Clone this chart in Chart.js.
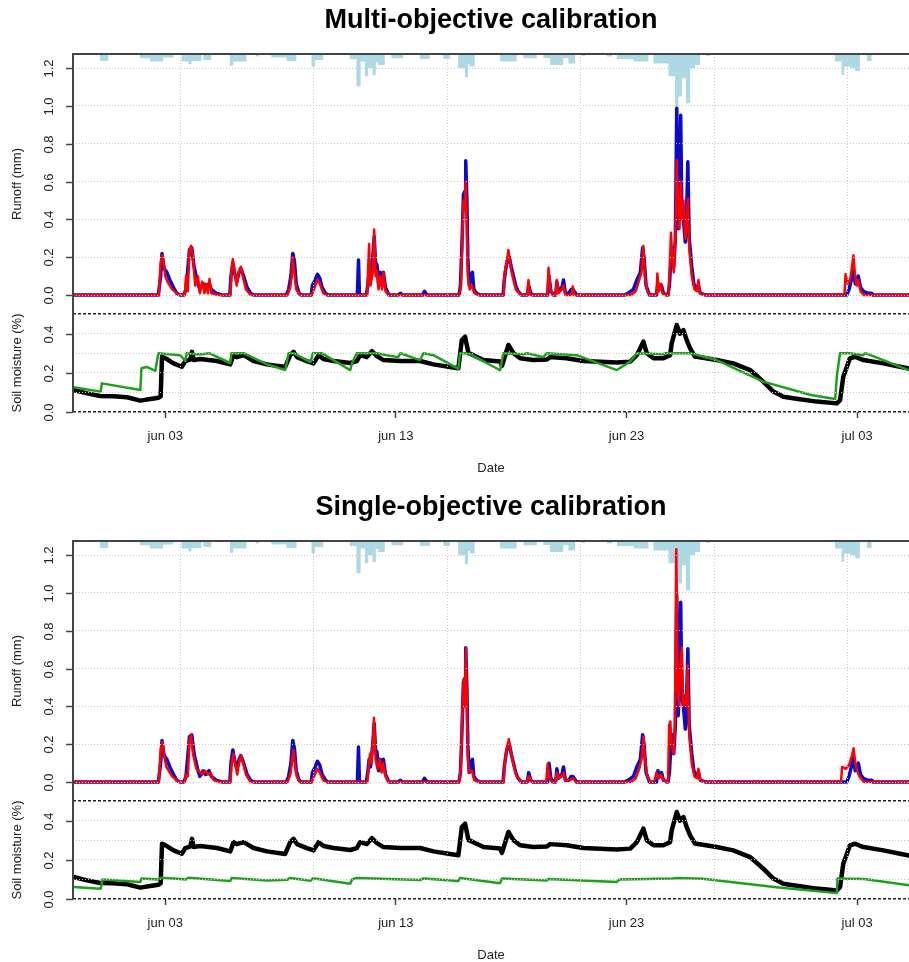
<!DOCTYPE html>
<html>
<head>
<meta charset="utf-8">
<title>Kalibrasi</title>
<script src="https://cdn.jsdelivr.net/npm/chart.js@4.4.0/dist/chart.umd.min.js"></script>
<style>
    html, body { margin: 0; padding: 0; background: #fff; overflow: hidden; }
    canvas { display: block; }
</style>
</head>
<body>
<canvas id="chartMulti" width="909" height="487"></canvas>
<canvas id="chartSingle" width="909" height="487"></canvas>
<script>
// Sumbu x dalam hari sejak 1 Juni (jun 03 = 3, jul 03 = 33)
const xMin = -1;
const xMax = 35.25;
const xTickDays = [3, 13, 23, 33];
const xTickLabels = ['jun 03', 'jun 13', 'jun 23', 'jul 03'];
// Garis grid vertikal (tiap 500000 detik)
const gridDays = [3.652, 9.439, 15.226, 21.013, 26.8, 32.587];

const runoffTicks = [0, 0.2, 0.4, 0.6, 0.8, 1.0, 1.2];
const soilTicks = [0, 0.1, 0.2, 0.3, 0.4, 0.5];
const soilLabelTicks = [0, 0.2, 0.4];

// Curah hujan [hari, mm], nilai berlaku sampai titik berikutnya
const precip = [
    [-1, 0], [0.17, 0.7], [0.53, 0],
    [1.9, 0.43], [2.34, 0.76], [2.91, 0.36], [3.35, 0],
    [3.71, 0.76], [4.0, 1.03], [4.14, 0.7], [4.57, 0], [4.65, 0.6], [5.0, 0],
    [5.8, 1.17], [5.95, 0.76], [6.52, 0],
    [6.93, 0.26], [7.07, 0],
    [7.6, 0.36], [8.26, 0.7], [8.69, 0],
    [9.34, 1.26], [9.49, 0.6], [9.85, 0],
    [11.0, 0.53], [11.22, 0.5], [11.29, 3.23], [11.47, 0.76], [11.66, 2.23], [11.8, 1.4], [11.99, 2.1], [12.13, 0.8], [12.23, 1.1], [12.52, 0],
    [12.81, 0.43], [13.32, 0],
    [14.04, 0.5], [14.47, 0],
    [15.05, 0.5], [15.34, 0],
    [15.7, 1.4], [15.99, 2.33], [16.13, 1.0], [16.2, 1.26], [16.42, 0],
    [17.52, 0.76], [18.24, 0],
    [18.53, 0.43], [19.11, 0],
    [19.4, 0.4], [19.69, 1.1], [20.26, 0.4], [20.48, 0.96], [20.77, 0],
    [21.07, 0.2], [21.2, 0],
    [22.15, 0.26], [22.36, 0],
    [22.58, 0.5], [23.3, 0.76], [23.95, 0],
    [24.17, 0.96], [24.82, 2.23], [25.1, 5.26], [25.25, 4.26], [25.4, 2.43], [25.58, 4.93], [25.76, 1.4], [25.97, 1.1], [26.19, 0],
    [26.45, 0.2], [26.6, 0],
    [32.04, 0.76], [32.33, 2.1], [32.43, 1.26], [32.7, 1.4], [32.91, 1.73], [33.12, 0],
    [33.42, 0.7], [33.63, 0],
    [35.25, 0]
];

// Runoff observasi (mm)
const runoffObs = [
    [-1, 0], [2.7, 0], [2.8, 0.1], [2.86, 0.22], [2.95, 0.14], [3.07, 0.12], [3.2, 0.08], [3.36, 0.04], [3.5, 0.01], [3.65, 0],
    [3.8, 0], [3.9, 0.03], [4.05, 0.24], [4.15, 0.25], [4.25, 0.15], [4.4, 0.07], [4.5, 0.03], [4.65, 0.06], [4.75, 0.04], [4.9, 0.06], [5.0, 0.03], [5.2, 0.01], [5.5, 0],
    [5.8, 0], [5.85, 0.1], [5.93, 0.17], [6.0, 0.12], [6.1, 0.07], [6.2, 0.12], [6.28, 0.14], [6.4, 0.1], [6.55, 0.04], [6.7, 0.01], [6.85, 0],
    [8.25, 0], [8.35, 0.03], [8.45, 0.1], [8.53, 0.22], [8.6, 0.18], [8.68, 0.06], [8.8, 0.01], [8.9, 0],
    [9.33, 0], [9.38, 0.05], [9.5, 0.08], [9.6, 0.11], [9.7, 0.09], [9.8, 0.04], [9.95, 0.01], [10.05, 0],
    [11.33, 0], [11.38, 0.185], [11.42, 0],
    [11.72, 0], [11.78, 0.05], [11.84, 0.12], [11.9, 0.08], [12.0, 0.2], [12.06, 0.31], [12.12, 0.17], [12.18, 0.16], [12.25, 0.06], [12.32, 0.12], [12.4, 0.1], [12.46, 0.12], [12.55, 0.04], [12.7, 0],
    [13.1, 0], [13.19, 0.01], [13.3, 0],
    [14.15, 0], [14.24, 0.02], [14.35, 0],
    [15.74, 0], [15.8, 0.05], [15.86, 0.25], [15.93, 0.53], [16.0, 0.55], [16.03, 0.71], [16.08, 0.5], [16.12, 0.2], [16.18, 0.05], [16.25, 0.1], [16.32, 0.12], [16.38, 0.03], [16.5, 0.01], [16.65, 0],
    [17.65, 0], [17.7, 0.08], [17.78, 0.15], [17.85, 0.19], [17.92, 0.2], [18.0, 0.15], [18.1, 0.1], [18.2, 0.05], [18.3, 0.02], [18.45, 0],
    [18.7, 0], [18.76, 0.05], [18.85, 0.01], [18.95, 0],
    [19.58, 0], [19.64, 0.1], [19.72, 0.02], [19.85, 0],
    [19.93, 0], [19.98, 0.07], [20.05, 0.02], [20.2, 0.04], [20.27, 0.08], [20.35, 0.01], [20.5, 0.01], [20.6, 0.03], [20.68, 0.03], [20.84, 0],
    [22.9, 0], [23.08, 0.01], [23.3, 0.03], [23.45, 0.08], [23.6, 0.12], [23.7, 0.25], [23.76, 0.2], [23.85, 0.05], [24.0, 0],
    [24.3, 0], [24.36, 0.06], [24.45, 0.03], [24.52, 0.05], [24.6, 0.01], [24.75, 0],
    [24.8, 0], [24.86, 0.05], [24.93, 0.2], [24.98, 0.25], [25.05, 0.15], [25.12, 0.3], [25.18, 0.987], [25.24, 0.35], [25.3, 0.5], [25.35, 0.95], [25.4, 0.45], [25.47, 0.4], [25.55, 0.28], [25.6, 0.4], [25.66, 0.705], [25.72, 0.3], [25.83, 0.15], [25.92, 0.06], [26.0, 0.04], [26.12, 0.05], [26.2, 0.01], [26.45, 0],
    [32.55, 0], [32.65, 0.03], [32.75, 0.08], [32.84, 0.13], [32.92, 0.06], [33.05, 0.1], [33.15, 0.04], [33.27, 0.02], [33.45, 0.01], [33.63, 0.01], [33.7, 0],
    [35.25, 0]
];

// Runoff simulasi, kalibrasi multi-objektif
const runoffSimMulti = [
    [-1, 0], [2.72, 0], [2.8, 0.17], [2.88, 0.21], [2.95, 0.15], [3.0, 0.1], [3.1, 0.07], [3.3, 0.03], [3.6, 0],
    [3.85, 0], [3.9, 0.1], [3.98, 0.02], [4.05, 0.24], [4.12, 0.26], [4.2, 0.2], [4.3, 0.05], [4.42, 0.1], [4.5, 0.01], [4.6, 0.07], [4.7, 0.01], [4.75, 0.06], [4.85, 0.01], [4.92, 0.085], [5.0, 0.01], [5.3, 0],
    [5.82, 0], [5.87, 0.12], [5.93, 0.19], [6.0, 0.13], [6.1, 0.05], [6.2, 0.13], [6.28, 0.15], [6.38, 0.09], [6.5, 0.03], [6.7, 0],
    [8.3, 0], [8.42, 0.04], [8.48, 0.1], [8.53, 0.2], [8.6, 0.12], [8.68, 0.03], [8.85, 0],
    [9.35, 0], [9.45, 0.03], [9.6, 0.08], [9.7, 0.06], [9.85, 0.01], [10.0, 0],
    [11.76, 0], [11.8, 0.15], [11.84, 0.27], [11.9, 0.05], [12.0, 0.12], [12.06, 0.347], [12.12, 0.1], [12.18, 0.13], [12.25, 0.03], [12.32, 0.1], [12.4, 0.03], [12.46, 0.12], [12.55, 0.02], [12.68, 0],
    [15.76, 0], [15.82, 0.05], [15.88, 0.3], [15.93, 0.5], [15.98, 0.45], [16.03, 0.6], [16.08, 0.35], [16.12, 0.1], [16.2, 0.03], [16.3, 0.05], [16.4, 0.01], [16.6, 0],
    [17.67, 0], [17.72, 0.12], [17.8, 0.17], [17.88, 0.238], [17.95, 0.17], [18.02, 0.12], [18.1, 0.08], [18.2, 0.03], [18.35, 0.01], [18.45, 0],
    [18.7, 0], [18.75, 0.079], [18.82, 0],
    [19.57, 0], [19.62, 0.144], [19.7, 0.03], [19.8, 0],
    [19.93, 0], [19.98, 0.08], [20.05, 0.01], [20.2, 0.03], [20.27, 0.05], [20.35, 0], [20.62, 0], [20.67, 0.045], [20.74, 0],
    [23.2, 0], [23.4, 0.02], [23.55, 0.08], [23.65, 0.12], [23.73, 0.26], [23.8, 0.1], [23.9, 0.02], [24.05, 0],
    [24.3, 0], [24.34, 0.114], [24.4, 0.02], [24.5, 0.06], [24.56, 0.01], [24.7, 0],
    [24.82, 0], [24.88, 0.15], [24.93, 0.33], [24.98, 0.2], [25.05, 0.12], [25.12, 0.3], [25.18, 0.713], [25.24, 0.45], [25.3, 0.35], [25.35, 0.6], [25.42, 0.4], [25.47, 0.5], [25.55, 0.3], [25.6, 0.35], [25.66, 0.51], [25.72, 0.25], [25.83, 0.1], [25.95, 0.03], [26.05, 0.02], [26.12, 0.08], [26.18, 0.01], [26.4, 0],
    [32.45, 0], [32.5, 0.11], [32.6, 0.06], [32.7, 0.08], [32.78, 0.15], [32.84, 0.21], [32.9, 0.12], [32.98, 0.05], [33.05, 0.08], [33.15, 0.02], [33.3, 0],
    [35.25, 0]
];

// Runoff simulasi, kalibrasi single-objektif
const runoffSimSingle = [
    [-1, 0], [2.72, 0], [2.8, 0.17], [2.88, 0.21], [2.95, 0.14], [3.05, 0.08], [3.3, 0.03], [3.6, 0],
    [3.85, 0], [3.9, 0.04], [3.98, 0.03], [4.05, 0.22], [4.12, 0.25], [4.2, 0.15], [4.35, 0.07], [4.45, 0.06], [4.6, 0.04], [4.72, 0.06], [4.85, 0.04], [4.95, 0.05], [5.1, 0.01], [5.35, 0],
    [5.82, 0], [5.88, 0.1], [5.96, 0.15], [6.03, 0.1], [6.12, 0.04], [6.2, 0.1], [6.28, 0.14], [6.38, 0.1], [6.5, 0.04], [6.7, 0],
    [8.3, 0], [8.42, 0.04], [8.48, 0.09], [8.55, 0.17], [8.62, 0.1], [8.7, 0.03], [8.85, 0],
    [9.35, 0], [9.45, 0.03], [9.6, 0.07], [9.7, 0.05], [9.85, 0.01], [10.0, 0],
    [11.76, 0], [11.82, 0.08], [11.88, 0.15], [11.94, 0.1], [12.0, 0.2], [12.05, 0.34], [12.12, 0.12], [12.2, 0.07], [12.3, 0.12], [12.38, 0.05], [12.45, 0.1], [12.55, 0.03], [12.68, 0],
    [15.76, 0], [15.82, 0.1], [15.88, 0.35], [15.93, 0.54], [15.98, 0.4], [16.04, 0.707], [16.08, 0.4], [16.12, 0.12], [16.2, 0.05], [16.3, 0.06], [16.4, 0.01], [16.6, 0],
    [17.67, 0], [17.72, 0.1], [17.8, 0.17], [17.9, 0.227], [17.97, 0.17], [18.05, 0.12], [18.15, 0.07], [18.25, 0.03], [18.45, 0],
    [18.7, 0], [18.75, 0.03], [18.82, 0.02], [18.9, 0],
    [19.52, 0], [19.58, 0.095], [19.66, 0.03], [19.75, 0],
    [19.92, 0], [19.98, 0.05], [20.06, 0.02], [20.2, 0.03], [20.27, 0.05], [20.35, 0.01], [20.55, 0.01], [20.7, 0.02], [20.8, 0],
    [23.2, 0], [23.4, 0.02], [23.55, 0.07], [23.65, 0.12], [23.74, 0.24], [23.8, 0.12], [23.9, 0.03], [24.05, 0],
    [24.2, 0], [24.3, 0.05], [24.4, 0.02], [24.5, 0.04], [24.6, 0.01], [24.75, 0],
    [24.8, 0], [24.85, 0.3], [24.9, 0.32], [24.95, 0.2], [25.05, 0.15], [25.1, 0.3], [25.16, 1.23], [25.22, 0.5], [25.28, 0.4], [25.34, 0.62], [25.4, 0.71], [25.46, 0.4], [25.53, 0.46], [25.6, 0.4], [25.65, 0.62], [25.72, 0.25], [25.83, 0.1], [25.95, 0.03], [26.05, 0.02], [26.12, 0.07], [26.2, 0.01], [26.4, 0],
    [32.3, 0], [32.35, 0.08], [32.5, 0.07], [32.65, 0.09], [32.78, 0.14], [32.85, 0.178], [32.92, 0.1], [33.0, 0.06], [33.1, 0.03], [33.3, 0],
    [35.25, 0]
];

// Kelembaban tanah observasi
const soilObs = [
    [-0.97, 0.112], [-0.39, 0.095], [0.18, 0.082], [0.76, 0.08], [1.34, 0.075], [1.92, 0.058], [2.35, 0.066], [2.71, 0.073], [2.8, 0.08],
    [2.86, 0.282], [3.07, 0.27], [3.36, 0.248], [3.72, 0.231], [3.87, 0.26], [4.08, 0.267], [4.16, 0.307], [4.23, 0.265], [4.52, 0.27],
    [5.24, 0.26], [5.82, 0.243], [5.96, 0.29], [6.1, 0.28], [6.25, 0.285], [6.4, 0.29], [6.83, 0.26], [7.41, 0.243], [8.2, 0.23],
    [8.42, 0.29], [8.56, 0.307], [8.71, 0.28], [9.14, 0.26], [9.43, 0.248], [9.65, 0.29], [9.86, 0.27], [10.3, 0.26], [11.02, 0.25],
    [11.31, 0.26], [11.45, 0.29], [11.74, 0.28], [11.96, 0.31], [12.18, 0.285], [12.46, 0.265], [13.19, 0.26], [14.05, 0.26],
    [14.63, 0.243], [15.35, 0.23], [15.71, 0.223], [15.86, 0.367], [16.0, 0.384], [16.15, 0.3], [16.36, 0.29], [16.8, 0.265],
    [17.52, 0.258], [17.6, 0.235], [17.88, 0.342], [18.1, 0.3], [18.39, 0.274], [18.96, 0.265], [19.55, 0.268], [19.69, 0.28],
    [20.41, 0.274], [21.13, 0.26], [22.58, 0.252], [23.16, 0.257], [23.45, 0.29], [23.73, 0.359], [23.88, 0.3], [24.17, 0.274],
    [24.6, 0.274], [24.89, 0.29], [24.96, 0.35], [25.18, 0.444], [25.32, 0.4], [25.47, 0.418], [25.61, 0.367], [25.76, 0.325],
    [25.97, 0.283], [26.91, 0.265], [27.63, 0.248], [28.36, 0.214], [28.93, 0.155], [29.37, 0.104], [29.8, 0.078], [30.52, 0.065],
    [31.25, 0.053], [32.12, 0.044], [32.26, 0.06], [32.4, 0.18], [32.69, 0.274], [32.91, 0.282], [33.27, 0.265], [34.14, 0.248],
    [34.86, 0.231], [35.25, 0.222]
];

// Kelembaban tanah simulasi, multi-objektif
const soilSimMulti = [
    [-0.97, 0.126], [0.2, 0.104], [0.25, 0.146], [1.92, 0.112], [1.97, 0.223], [2.2, 0.23], [2.57, 0.21], [2.7, 0.3],
    [3.65, 0.29], [3.87, 0.26], [3.93, 0.3], [4.3, 0.295], [4.6, 0.295], [4.9, 0.3], [5.82, 0.25], [5.87, 0.3], [6.4, 0.3],
    [7.41, 0.243], [8.2, 0.214], [8.35, 0.3], [8.56, 0.3], [9.3, 0.255], [9.4, 0.3], [9.78, 0.3], [11.02, 0.214], [11.1, 0.25],
    [11.3, 0.3], [12.2, 0.3], [12.6, 0.29], [13.1, 0.28], [13.2, 0.3], [14.05, 0.265], [14.2, 0.3], [14.63, 0.29], [15.71, 0.22],
    [15.78, 0.3], [16.0, 0.3], [16.22, 0.295], [17.52, 0.213], [17.66, 0.3], [18.53, 0.295], [18.7, 0.3], [19.4, 0.28], [19.55, 0.3],
    [20.84, 0.29], [22.58, 0.214], [23.16, 0.257], [23.45, 0.3], [24.6, 0.295], [24.7, 0.3], [25.76, 0.3], [26.91, 0.265],
    [28.93, 0.155], [31.0, 0.087], [32.05, 0.066], [32.12, 0.18], [32.26, 0.3], [32.69, 0.3], [33.27, 0.29], [33.35, 0.3],
    [34.14, 0.265], [35.25, 0.213]
];

// Kelembaban tanah simulasi, single-objektif
const soilSimSingle = [
    [-0.97, 0.061], [0.2, 0.052], [0.28, 0.1], [1.92, 0.087], [1.97, 0.104], [2.71, 0.1], [2.8, 0.109], [3.65, 0.102], [3.9, 0.1],
    [4.0, 0.108], [5.82, 0.092], [5.88, 0.107], [7.41, 0.095], [8.3, 0.098], [8.4, 0.107], [9.3, 0.093], [9.4, 0.106], [11.02, 0.078],
    [11.1, 0.1], [11.3, 0.107], [14.05, 0.097], [14.2, 0.105], [15.71, 0.092], [15.78, 0.107], [17.52, 0.08], [17.6, 0.105],
    [19.55, 0.095], [19.6, 0.102], [22.58, 0.087], [22.7, 0.1], [25.0, 0.105], [25.2, 0.107], [26.3, 0.103], [29.5, 0.06],
    [32.12, 0.03], [32.15, 0.105], [33.3, 0.102], [35.25, 0.07]
];

Chart.defaults.font.family = "'Liberation Sans', Arial, sans-serif";
Chart.defaults.color = '#222';
Chart.defaults.elements.point.radius = 0;
Chart.defaults.elements.line.tension = 0;
Chart.defaults.elements.line.borderJoinStyle = 'round';
Chart.defaults.elements.line.borderCapStyle = 'round';

const gridGray = '#C8C8C8';
const axisColor = '#444';

// Fungsi untuk mengecek garis batas panel tanah (0 dan 0.5)
function isEdge(tick) {
    return !!tick && (tick.value === 0 || tick.value === 0.5);
}

// Plugin: garis tepi kiri/atas, tanda tick dan label sumbu y yang diputar
const axisLabelPlugin = {
    id: 'axisLabels',
    afterDraw(chart) {
        const ctx = chart.ctx;
        const area = chart.chartArea;
        ctx.save();
        ctx.strokeStyle = axisColor;
        ctx.lineWidth = 2;
        ctx.beginPath();
        ctx.moveTo(area.right, area.top);
        ctx.lineTo(area.left, area.top);
        ctx.lineTo(area.left, area.bottom);
        ctx.stroke();

        ctx.fillStyle = '#222';
        ctx.font = "13px 'Liberation Sans', Arial, sans-serif";
        ctx.textAlign = 'center';
        ctx.textBaseline = 'middle';
        ctx.lineWidth = 1.5;
        const drawLabels = (scale, values) => {
            values.forEach(v => {
                const y = Math.round(scale.getPixelForValue(v)) + 0.5;
                ctx.beginPath();
                ctx.moveTo(area.left - 7, y);
                ctx.lineTo(area.left, y);
                ctx.stroke();
                ctx.save();
                ctx.translate(area.left - 24, y);
                ctx.rotate(-Math.PI / 2);
                ctx.fillText(v.toFixed(1), 0, 0);
                ctx.restore();
            });
        };
        drawLabels(chart.scales.yR, runoffTicks);
        drawLabels(chart.scales.yS, soilLabelTicks);
        ctx.restore();
    }
};

// Fungsi untuk membuat satu panel kalibrasi
function buildChart(canvasId, title, runoffSim, soilSim) {
    const ctx = document.getElementById(canvasId).getContext('2d');
    return new Chart(ctx, {
        type: 'line',
        data: {
            datasets: [
                { label: 'Runoff sim', data: runoffSim, xAxisID: 'x', yAxisID: 'yR', borderColor: '#FF0000', borderWidth: 2.5 },
                { label: 'Runoff obs', data: runoffObs, xAxisID: 'x', yAxisID: 'yR', borderColor: '#0A0ACD', borderWidth: 3.5 },
                { label: 'Soil sim', data: soilSim, xAxisID: 'x', yAxisID: 'yS', borderColor: '#1DA11D', borderWidth: 2.5 },
                { label: 'Soil obs', data: soilObs, xAxisID: 'x', yAxisID: 'yS', borderColor: '#000000', borderWidth: 4.5 },
                {
                    label: 'Hujan', data: precip, xAxisID: 'x', yAxisID: 'yP',
                    stepped: true, fill: 'origin',
                    backgroundColor: '#ADD8E6', borderColor: 'rgba(0,0,0,0)', borderWidth: 0
                }
            ]
        },
        options: {
            responsive: false,
            animation: false,
            events: [],
            layout: { padding: 0 },
            plugins: {
                legend: { display: false },
                tooltip: { enabled: false },
                title: {
                    display: true,
                    fullSize: false,
                    text: title,
                    color: '#000',
                    font: { size: 27, weight: 'bold' },
                    padding: { top: 4, bottom: 17.6 }
                }
            },
            scales: {
                x: {
                    type: 'linear', position: 'bottom', min: xMin, max: xMax,
                    afterBuildTicks: s => { s.ticks = xTickDays.map(v => ({ value: v })); },
                    afterFit: s => { s.height = 75; },
                    ticks: {
                        autoSkip: false, maxRotation: 0, minRotation: 0,
                        font: { size: 13 }, padding: 11,
                        callback: v => xTickLabels[xTickDays.indexOf(v)]
                    },
                    grid: { drawOnChartArea: false, drawTicks: true, tickLength: 6, tickColor: axisColor, tickWidth: 1.5, tickBorderDash: [] },
                    border: { display: false },
                    title: { display: true, text: 'Date', font: { size: 13 }, padding: { top: 0, bottom: 11 } }
                },
                xg: {
                    type: 'linear', position: 'bottom', min: xMin, max: xMax,
                    afterBuildTicks: s => { s.ticks = gridDays.map(v => ({ value: v })); },
                    afterFit: s => { s.height = 0; },
                    ticks: { display: false },
                    grid: { drawOnChartArea: true, drawTicks: false, color: gridGray, lineWidth: 1, z: 1 },
                    border: { display: false, dash: [1, 2] }
                },
                yR: {
                    type: 'linear', position: 'left', stack: 'panel', stackWeight: 260, weight: 2,
                    min: -0.1, max: 1.274,
                    afterBuildTicks: s => { s.ticks = runoffTicks.map(v => ({ value: v })); },
                    afterFit: s => { s.width = 73; },
                    ticks: { display: false },
                    grid: { color: gridGray, lineWidth: 1, z: 1, drawTicks: false },
                    border: { display: false, dash: [1, 2] },
                    title: { display: true, text: 'Runoff (mm)', font: { size: 13 }, padding: { top: 10, bottom: 0 } }
                },
                yS: {
                    type: 'linear', position: 'left', stack: 'panel', stackWeight: 98, weight: 1,
                    min: 0, max: 0.5,
                    afterBuildTicks: s => { s.ticks = soilTicks.map(v => ({ value: v })); },
                    afterFit: s => { s.width = 73; },
                    ticks: { display: false },
                    grid: {
                        z: 1, drawTicks: false,
                        color: c => isEdge(c.tick) ? '#222' : gridGray,
                        lineWidth: c => isEdge(c.tick) ? 1.5 : 1
                    },
                    border: { display: false, dash: c => isEdge(c.tick) ? [3, 2] : [1, 2] },
                    title: { display: true, text: 'Soil moisture (%)', font: { size: 13 }, padding: { top: 10, bottom: 0 } }
                },
                yP: {
                    type: 'linear', position: 'left', display: false, reverse: true, weight: 0,
                    min: 0, max: 35.8
                }
            }
        },
        plugins: [axisLabelPlugin]
    });
}

document.addEventListener('DOMContentLoaded', function () {
    buildChart('chartMulti', 'Multi-objective calibration', runoffSimMulti, soilSimMulti);
    buildChart('chartSingle', 'Single-objective calibration', runoffSimSingle, soilSimSingle);
});
</script>
</body>
</html>
